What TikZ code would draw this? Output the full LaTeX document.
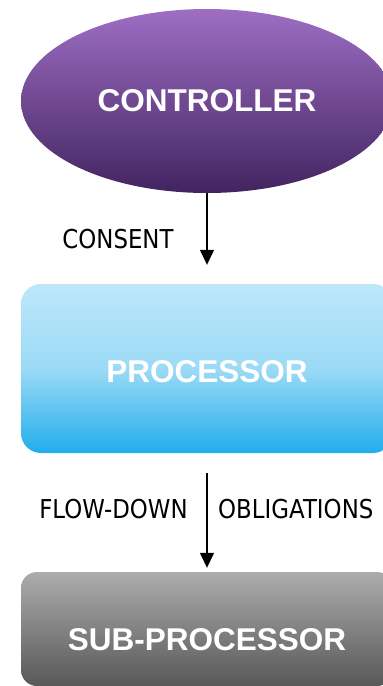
\documentclass[tikz,border=0pt]{standalone}
\usepackage{fontspec}
\usepackage{tikz}
\usetikzlibrary{shapes.geometric,arrows.meta}
\newfontfamily\partyfont{Liberation Sans}
\newfontfamily\notefont[FakeStretch=0.88]{DejaVu Sans}
\definecolor{ctrltop}{RGB}{158,110,196}
\definecolor{ctrlbot}{RGB}{66,36,96}
\definecolor{proctop}{RGB}{190,231,249}
\definecolor{procmid}{RGB}{155,218,246}
\definecolor{procbot}{RGB}{33,173,235}
\definecolor{subtop}{RGB}{172,172,172}
\definecolor{subbot}{RGB}{88,88,88}
\tikzstyle{party}=[inner sep=0pt, text=white, font=\partyfont\bfseries\fontsize{31.5}{31.5}\selectfont]
\tikzstyle{roundbox}=[party, rectangle, rounded corners=20pt, minimum width=372pt]
\tikzstyle{note}=[inner sep=0pt, font=\notefont\fontsize{26}{26}\selectfont]
\tikzstyle{flow}=[-{Triangle[length=15pt,width=14pt]}, line width=1.4pt]

\begin{document}
\begin{tikzpicture}[x=1pt,y=-1pt]
            \useasboundingbox (0,0) rectangle (383,686);
            \clip (0,0) rectangle (383,686);

            \node[party, ellipse, minimum width=372pt, minimum height=184pt,
                  top color=ctrltop, bottom color=ctrlbot] (ctrl) at (207,101) {CONTROLLER};
            \node[roundbox, minimum height=169pt, text height=29pt,
                  top color=proctop, bottom color=procbot, middle color=procmid] (proc) at (207,368.5) {PROCESSOR};
            \node[roundbox, rounded corners=16pt, minimum height=114pt, text height=44pt,
                  top color=subtop, bottom color=subbot] (sub) at (207,629) {SUB-PROCESSOR};

            \node[note, anchor=base] (consent) at (118,248) {CONSENT};
            \node[note, anchor=base] (flowdown) at (113.5,518) {FLOW-DOWN};
            \node[note, anchor=base west] (oblig) at (218,518) {OBLIGATIONS};

            \draw[flow, shorten >=19pt] (ctrl.south) -- (proc.north);
            \draw[flow, shorten <=20pt, shorten >=4pt] (proc.south) -- (sub.north);
\end{tikzpicture}
\end{document}
